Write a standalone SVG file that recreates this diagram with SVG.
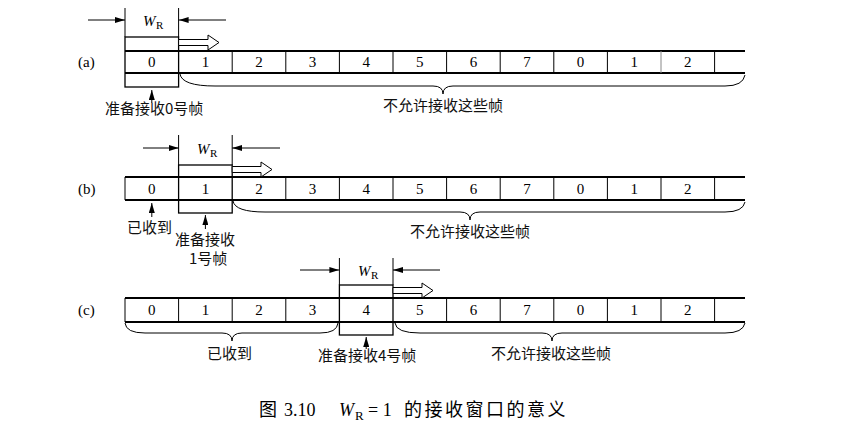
<svg xmlns="http://www.w3.org/2000/svg" width="847" height="431" viewBox="0 0 847 431">
<style>
.t{font-family:"Liberation Serif","Times New Roman",serif;font-size:15px;fill:#000}
.c{font-family:"Noto Sans CJK SC",sans-serif;font-size:15px;fill:#111}
.n{font-family:"Liberation Serif",serif;font-size:15px;fill:#000;text-anchor:middle}
.ln{stroke:#000;stroke-width:1;fill:none}
.th{stroke:#000;stroke-width:2;fill:none}
.bx{stroke:#000;stroke-width:1.3;fill:none}
.br{stroke:#000;stroke-width:1;fill:none}
.ha{stroke:#000;stroke-width:1;fill:#fff}
</style>
<defs>
<marker id="ah" viewBox="0 0 10 6" refX="10" refY="3" markerWidth="10" markerHeight="6" markerUnits="userSpaceOnUse" orient="auto">
<path d="M0,0 L10,3 L0,6 Z" fill="#000"/>
</marker>
</defs>

<!-- Row (a) -->
<g id="row-a">
<text class="t" x="78" y="67">(a)</text>
<line class="th" x1="125" y1="51" x2="745" y2="51"/>
<line class="th" x1="125" y1="73" x2="745" y2="73"/>
<g class="ln">
<line x1="232.2" y1="51" x2="232.2" y2="73"/>
<line x1="285.8" y1="51" x2="285.8" y2="73"/>
<line x1="339.4" y1="51" x2="339.4" y2="73"/>
<line x1="393" y1="51" x2="393" y2="73"/>
<line x1="446.6" y1="51" x2="446.6" y2="73"/>
<line x1="500.2" y1="51" x2="500.2" y2="73"/>
<line x1="553.8" y1="51" x2="553.8" y2="73"/>
<line x1="607.4" y1="51" x2="607.4" y2="73"/>
<line x1="661" y1="51" x2="661" y2="73" stroke="#888"/>
<line x1="714.6" y1="51" x2="714.6" y2="73"/>
</g>
<text class="n" x="151.8" y="67">0</text>
<text class="n" x="205.4" y="67">1</text>
<text class="n" x="259" y="67">2</text>
<text class="n" x="312.6" y="67">3</text>
<text class="n" x="366.2" y="67">4</text>
<text class="n" x="419.8" y="67">5</text>
<text class="n" x="473.4" y="67">6</text>
<text class="n" x="527" y="67">7</text>
<text class="n" x="580.6" y="67">0</text>
<text class="n" x="634.2" y="67">1</text>
<text class="n" x="687.8" y="67">2</text>
</g>
<g id="window-a">
<rect class="bx" x="125" y="37" width="53.6" height="50"/>
<path class="ha" d="M178.6,39.5 H208 V35 L219,42.5 L208,50 V45.5 H178.6 Z"/>
<line class="ln" x1="125" y1="8" x2="125" y2="37"/>
<line class="ln" x1="178.6" y1="8" x2="178.6" y2="37"/>
<text x="143" y="26" font-family="Liberation Serif,serif" font-size="15" font-style="italic">W</text>
<text x="156" y="29" font-family="Liberation Serif,serif" font-size="11">R</text>
</g>
<g id="label-a0">
<text class="c" x="105" y="114">准备接收0号帧</text>
</g>
<g id="label-a1">
<text class="c" x="383" y="111">不允许接收这些帧</text>
</g>

<!-- Row (b) -->
<g id="row-b">
<text class="t" x="78" y="194">(b)</text>
<line class="th" x1="125" y1="177" x2="745" y2="177"/>
<line class="th" x1="125" y1="200" x2="745" y2="200"/>
<g class="ln">
<line x1="125" y1="177" x2="125" y2="200"/>
<line x1="285.8" y1="177" x2="285.8" y2="200"/>
<line x1="339.4" y1="177" x2="339.4" y2="200"/>
<line x1="393" y1="177" x2="393" y2="200"/>
<line x1="446.6" y1="177" x2="446.6" y2="200"/>
<line x1="500.2" y1="177" x2="500.2" y2="200"/>
<line x1="553.8" y1="177" x2="553.8" y2="200"/>
<line x1="607.4" y1="177" x2="607.4" y2="200"/>
<line x1="661" y1="177" x2="661" y2="200"/>
<line x1="714.6" y1="177" x2="714.6" y2="200"/>
</g>
<text class="n" x="151.8" y="194">0</text>
<text class="n" x="205.4" y="194">1</text>
<text class="n" x="259" y="194">2</text>
<text class="n" x="312.6" y="194">3</text>
<text class="n" x="366.2" y="194">4</text>
<text class="n" x="419.8" y="194">5</text>
<text class="n" x="473.4" y="194">6</text>
<text class="n" x="527" y="194">7</text>
<text class="n" x="580.6" y="194">0</text>
<text class="n" x="634.2" y="194">1</text>
<text class="n" x="687.8" y="194">2</text>
</g>
<g id="window-b">
<rect class="bx" x="178.6" y="165" width="53.6" height="48"/>
<path class="ha" d="M232.2,166.5 H261 V162 L272,169.5 L261,177 V172.5 H232.2 Z"/>
<line class="ln" x1="178.6" y1="135" x2="178.6" y2="165"/>
<line class="ln" x1="232.2" y1="135" x2="232.2" y2="165"/>
<text x="197" y="154" font-family="Liberation Serif,serif" font-size="15" font-style="italic">W</text>
<text x="210" y="157" font-family="Liberation Serif,serif" font-size="11">R</text>
</g>
<g id="label-b0">
<text class="c" x="127" y="233">已收到</text>
</g>
<g id="label-b1">
<text class="c" x="175" y="245">准备接收</text>
<text class="c" x="189" y="264">1号帧</text>
</g>
<g id="label-b2">
<text class="c" x="410" y="237">不允许接收这些帧</text>
</g>

<!-- Row (c) -->
<g id="row-c">
<text class="t" x="78" y="315">(c)</text>
<line class="th" x1="125" y1="298" x2="745" y2="298"/>
<line class="th" x1="125" y1="322" x2="745" y2="322"/>
<g class="ln">
<line x1="125" y1="298" x2="125" y2="322"/>
<line x1="178.6" y1="298" x2="178.6" y2="322"/>
<line x1="232.2" y1="298" x2="232.2" y2="322"/>
<line x1="285.8" y1="298" x2="285.8" y2="322"/>
<line x1="446.6" y1="298" x2="446.6" y2="322"/>
<line x1="500.2" y1="298" x2="500.2" y2="322"/>
<line x1="553.8" y1="298" x2="553.8" y2="322"/>
<line x1="607.4" y1="298" x2="607.4" y2="322"/>
<line x1="661" y1="298" x2="661" y2="322"/>
<line x1="714.6" y1="298" x2="714.6" y2="322"/>
</g>
<text class="n" x="151.8" y="315">0</text>
<text class="n" x="205.4" y="315">1</text>
<text class="n" x="259" y="315">2</text>
<text class="n" x="312.6" y="315">3</text>
<text class="n" x="366.2" y="315">4</text>
<text class="n" x="419.8" y="315">5</text>
<text class="n" x="473.4" y="315">6</text>
<text class="n" x="527" y="315">7</text>
<text class="n" x="580.6" y="315">0</text>
<text class="n" x="634.2" y="315">1</text>
<text class="n" x="687.8" y="315">2</text>
</g>
<g id="window-c">
<rect class="bx" x="339.4" y="285" width="53.6" height="50"/>
<path class="ha" d="M393,287.5 H422 V283 L433,290.5 L422,298 V293.5 H393 Z"/>
<line class="ln" x1="339.4" y1="258" x2="339.4" y2="285"/>
<line class="ln" x1="393" y1="258" x2="393" y2="285"/>
<text x="358" y="276" font-family="Liberation Serif,serif" font-size="15" font-style="italic">W</text>
<text x="371" y="279" font-family="Liberation Serif,serif" font-size="11">R</text>
</g>
<g id="label-c0">
<text class="c" x="207" y="359">已收到</text>
</g>
<g id="label-c1">
<text class="c" x="318" y="361">准备接收4号帧</text>
</g>
<g id="label-c2">
<text class="c" x="491" y="359">不允许接收这些帧</text>
</g>

<!-- Connectors -->
<g id="connectors">
<line class="ln" x1="88" y1="20" x2="125" y2="20" marker-end="url(#ah)"/>
<line class="ln" x1="226" y1="20" x2="178.6" y2="20" marker-end="url(#ah)"/>
<line class="ln" x1="143" y1="148" x2="178.6" y2="148" marker-end="url(#ah)"/>
<line class="ln" x1="280" y1="148" x2="232.2" y2="148" marker-end="url(#ah)"/>
<line class="ln" x1="300" y1="270" x2="339.4" y2="270" marker-end="url(#ah)"/>
<line class="ln" x1="440" y1="270" x2="393" y2="270" marker-end="url(#ah)"/>
<line class="ln" x1="151.8" y1="103" x2="151.8" y2="90" marker-end="url(#ah)"/>
<line class="ln" x1="151.8" y1="217" x2="151.8" y2="203" marker-end="url(#ah)"/>
<line class="ln" x1="205.4" y1="229" x2="205.4" y2="215" marker-end="url(#ah)"/>
<line class="ln" x1="366.2" y1="349" x2="366.2" y2="337" marker-end="url(#ah)"/>
<path class="br" d="M180,74 Q182,86 215,86 L433,86 Q443,86 443,94 Q443,86 453,86 L725,86 Q743,86 745,75"/>
<path class="br" d="M233,201 Q235,212 265,212 L460,212 Q470,212 470,220 Q470,212 480,212 L725,212 Q743,212 745,202"/>
<path class="br" d="M125,323 Q126,333 145,333 L222,333 Q232,333 232,341 Q232,333 242,333 L320,333 Q337,333 338,323"/>
<path class="br" d="M395,323 Q396,333 420,333 L542,333 Q552,333 552,341 Q552,333 562,333 L725,333 Q743,333 745,323"/>
</g>

<!-- Caption -->
<g id="caption">
<text x="259" y="416" font-family="Noto Sans CJK SC,sans-serif" font-size="18">图</text>
<text x="284" y="416" font-family="Liberation Serif,serif" font-size="18">3.10</text>
<text x="339" y="416" font-family="Liberation Serif,serif" font-size="18" font-style="italic">W</text>
<text x="355" y="420" font-family="Liberation Serif,serif" font-size="13">R</text>
<text x="368" y="416" font-family="Liberation Serif,serif" font-size="18">= 1</text>
<text x="404" y="416" font-family="Noto Sans CJK SC,sans-serif" font-size="18" letter-spacing="2.5">的接收窗口的意义</text>
</g>
</svg>
